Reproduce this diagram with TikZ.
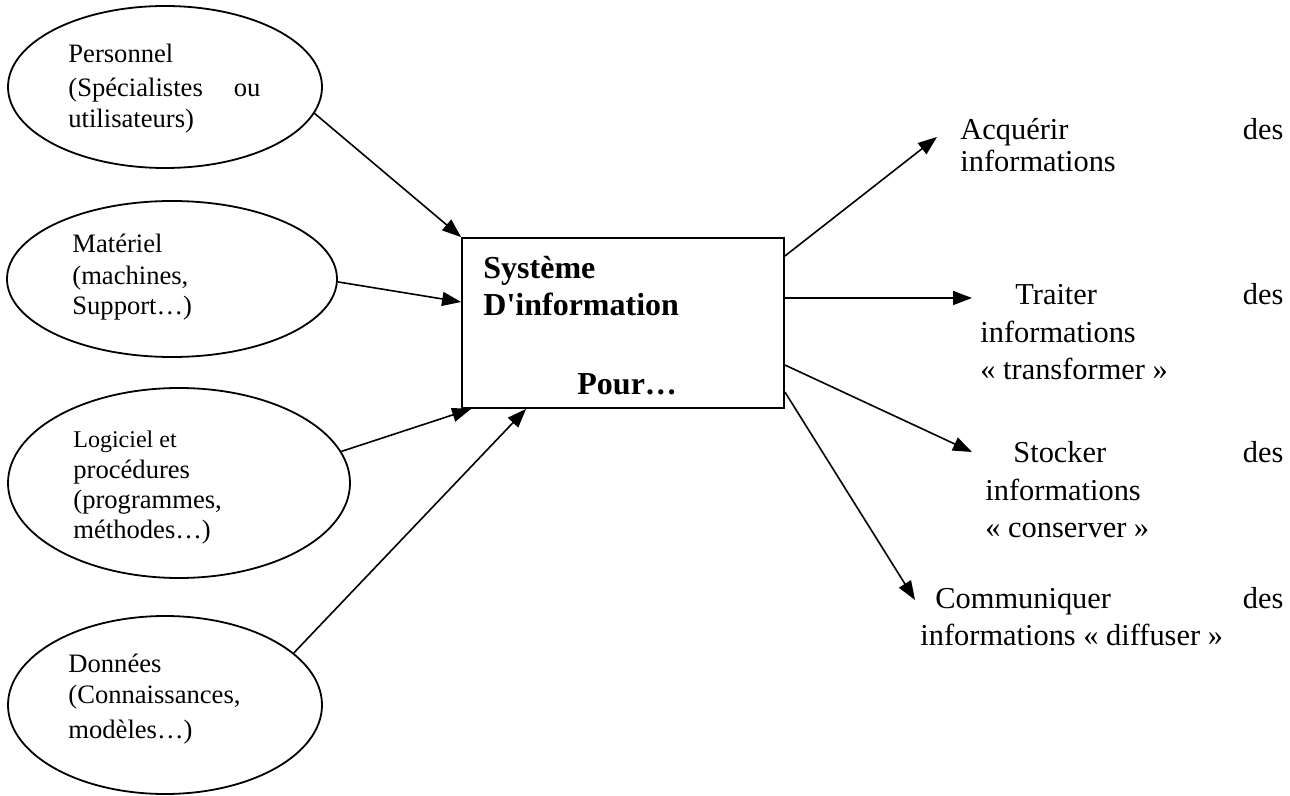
\documentclass[tikz,border=0pt]{standalone}
\usepackage{fontspec}
\setmainfont{Liberation Serif}
\usetikzlibrary{shapes.geometric,arrows.meta,calc}
\begin{document}
\begin{tikzpicture}[x=0.5pt,y=-0.5pt,
  oval/.style={ellipse,draw,line width=0.9pt,inner sep=0pt},
  sysbox/.style={rectangle,draw,line width=0.9pt,inner sep=0pt,minimum width=161pt,minimum height=85pt},
  ltxt/.style={anchor=base west,inner sep=0pt,font=\fontsize{13.3}{15}\selectfont},
  stxt/.style={anchor=base west,inner sep=0pt,font=\fontsize{12}{14}\selectfont},
  btxt/.style={anchor=base west,inner sep=0pt,font=\fontsize{16}{18}\selectfont\bfseries},
  rtxt/.style={anchor=base west,inner sep=0pt,font=\fontsize{15.2}{17}\selectfont},
  arr/.style={line width=0.8pt,-{Triangle[length=9.5pt,width=7pt]}}]
\useasboundingbox (0,0) rectangle (1290,796);
% ellipses
\node[oval,minimum width=157pt,minimum height=81pt] (e1) at (165,87) {};
\node[oval,minimum width=165pt,minimum height=78pt] (e2) at (172,279) {};
\node[oval,minimum width=171pt,minimum height=95pt] (e3) at (179,483) {};
\node[oval,minimum width=157pt,minimum height=89pt] (e4) at (165,705) {};
% ellipse texts
\node[ltxt] (p1) at (68,63) {Personnel};
\node[ltxt] (p2) at (68,97) {\makebox[96pt][s]{(Spécialistes\hfill ou}};
\node[ltxt] (p3) at (68,128) {utilisateurs)};
\node[ltxt] (m1) at (72,253) {Matériel};
\node[ltxt] (m2) at (72,285) {(machines,};
\node[ltxt] (m3) at (72,315) {Support…)};
\node[stxt] (l1) at (73,447) {Logiciel et};
\node[ltxt] (l2) at (73,478) {procédures};
\node[ltxt] (l3) at (73,508) {(programmes,};
\node[ltxt] (l4) at (73,538) {méthodes…)};
\node[ltxt] (d1) at (68,672) {Données};
\node[ltxt] (d2) at (68,703) {(Connaissances,};
\node[ltxt] (d3) at (68,738) {modèles…)};
% central box
\node[sysbox] (sys) at (623,323) {};
\node[btxt] (s1) at (483,279) {Système};
\node[btxt] (s2) at (483,316) {D\textquotesingle information};
\node[btxt] (s3) at (577,394) {Pour…};
% right texts
\node[rtxt] (a1) at (960,140) {\makebox[161.5pt][s]{Acquérir\hfill des}};
\node[rtxt] (a2) at (960,172) {informations};
\node[rtxt] (t1) at (1015,305) {\makebox[134pt][s]{Traiter\hfill des}};
\node[rtxt] (t2) at (980,343) {informations};
\node[rtxt] (t3) at (980,380) {« transformer »};
\node[rtxt] (k1) at (1013,463) {\makebox[135pt][s]{Stocker\hfill des}};
\node[rtxt] (k2) at (985,500) {informations};
\node[rtxt] (k3) at (985,537) {« conserver »};
\node[rtxt] (c1) at (935,608) {\makebox[174pt][s]{Communiquer\hfill des}};
\node[rtxt] (c2) at (920,645) {informations « diffuser »};
% arrow tips
\coordinate (tA) at (937,137);
\coordinate (tB) at (972,298);
\coordinate (tC) at (972,452);
\coordinate (tD) at (915,600);
% incoming arrows
\draw[arr] (e1.-10) -- (sys.north west);
\draw[arr] (e2.-1) -- ([yshift=10.5pt]sys.west);
\draw[arr] (e3.11) -- ([xshift=5pt]sys.south west);
\draw[arr] (e4.22) -- ([xshift=32.5pt]sys.south west);
% outgoing arrows
\draw[arr] ([yshift=33.5pt]sys.east) -- (tA);
\draw[arr] ([yshift=12.5pt]sys.east) -- (tB);
\draw[arr] ([yshift=-21pt]sys.east) -- (tC);
\draw[arr] ([yshift=-34.5pt]sys.east) -- (tD);
\end{tikzpicture}
\end{document}
